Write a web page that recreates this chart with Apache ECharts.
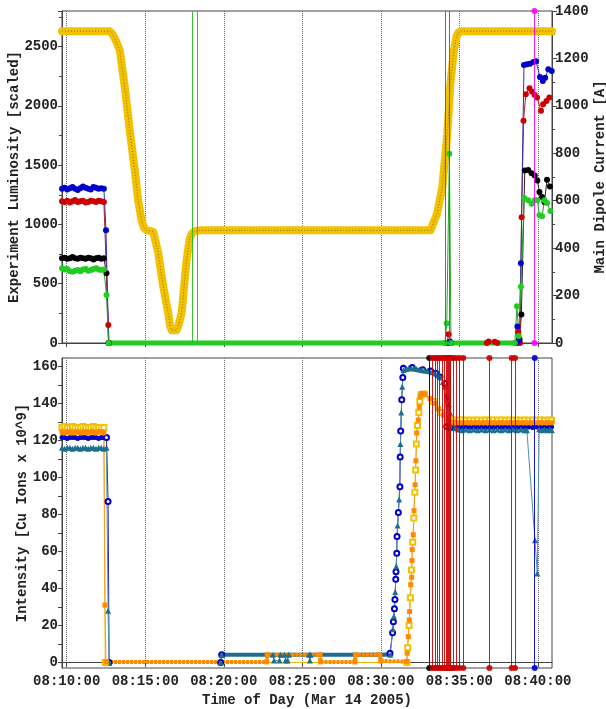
<!DOCTYPE html>
<html>
<head>
<meta charset="utf-8">
<script src="https://cdn.jsdelivr.net/npm/echarts@6/dist/echarts.min.js"></script>
<style>
  html, body { margin: 0; padding: 0; background: #fff; }
  #chart { width: 606px; height: 709px; }
</style>
</head>
<body>
<div id="chart"></div>
<script>
// time helpers (x values are seconds since midnight)
const toSec = s => { const p = s.split(':').map(Number); return p[0] * 3600 + p[1] * 60 + p[2]; };
const pad = n => String(n).padStart(2, '0');
const fmtTime = v => pad(Math.floor(v / 3600)) + ':' + pad(Math.floor(v % 3600 / 60)) + ':' + pad(Math.round(v % 60));

const xStart = '08:09:42', xEnd = '08:40:54';
const timeTicks = ['08:10:00', '08:15:00', '08:20:00', '08:25:00', '08:30:00', '08:35:00', '08:40:00'];
const intensityLabels = [0, 20, 40, 60, 80, 100, 120, 140, 160];
const intensityTicks = [0, 10, 20, 30, 40, 50, 60, 70, 80, 90, 100, 110, 120, 130, 140, 150, 160];

// ---- top panel: luminosity (left axis) + dipole current (right axis)
const headTimes = ['08:09:42', '08:09:52', '08:10:02', '08:10:12', '08:10:22', '08:10:32', '08:10:42', '08:10:52', '08:11:02',
  '08:11:12', '08:11:22', '08:11:32', '08:11:42', '08:11:52', '08:12:02', '08:12:12', '08:12:22'];

const blueLumiHead = [1300, 1310, 1295, 1305, 1315, 1300, 1290, 1305, 1320, 1310, 1300, 1295, 1315, 1310, 1300, 1305, 1300];
const redLumiHead = [1195, 1190, 1200, 1185, 1195, 1205, 1190, 1195, 1200, 1185, 1190, 1200, 1195, 1190, 1200, 1195, 1190];
const blackLumiHead = [715, 720, 710, 715, 725, 715, 710, 720, 715, 710, 720, 715, 705, 715, 720, 710, 715];
const greenLumiHead = [630, 620, 625, 605, 600, 610, 615, 605, 620, 625, 610, 615, 625, 630, 620, 615, 620];

const blueLumiRest = [['08:12:30', 950], ['08:12:40', 0], ['08:34:20', 0], ['08:34:24', 12], ['08:34:28', 0], ['08:38:36', 0],
  ['08:38:42', 140], ['08:38:48', 20], ['08:38:55', 673], ['08:39:07', 2344], ['08:39:18', 2350], ['08:39:30', 2355],
  ['08:39:43', 2369], ['08:39:53', 2377], ['08:40:08', 2243], ['08:40:19', 2210], ['08:40:28', 2238], ['08:40:40', 2308], ['08:40:53', 2294]];
const redLumiRest = [['08:12:39', 151], ['08:12:42', 0], ['08:34:12', 0], ['08:34:19', 73], ['08:34:26', 0], ['08:36:45', 0],
  ['08:36:52', 12], ['08:37:15', 10], ['08:37:25', 0], ['08:38:40', 0], ['08:38:45', 90], ['08:38:52', 0], ['08:38:58', 1060],
  ['08:39:05', 1874], ['08:39:14', 2098], ['08:39:28', 2148], ['08:39:38', 2120], ['08:39:48', 2092], ['08:39:57', 2070],
  ['08:40:12', 1958], ['08:40:20', 2014], ['08:40:33', 2042], ['08:40:44', 2070]];
const blackLumiRest = [['08:12:32', 589], ['08:12:40', 0], ['08:38:40', 0], ['08:38:50', 30], ['08:38:57', 240], ['08:39:10', 1454],
  ['08:39:23', 1460], ['08:39:36', 1432], ['08:39:48', 1412], ['08:39:58', 1371], ['08:40:06', 1273], ['08:40:16', 1231],
  ['08:40:25', 1189], ['08:40:35', 1376], ['08:40:46', 1320]];
const greenLumiRest = [['08:12:32', 404], ['08:12:40', 0], ['08:34:05', 0], ['08:34:12', 166], ['08:34:22', 1597], ['08:34:28', 0],
  ['08:38:32', 0], ['08:38:40', 310], ['08:38:47', 60], ['08:38:55', 475], ['08:39:08', 1222], ['08:39:23', 1203], ['08:39:36', 1175],
  ['08:39:48', 1203], ['08:39:58', 1203], ['08:40:06', 1077], ['08:40:16', 1068], ['08:40:25', 1203], ['08:40:35', 1180], ['08:40:48', 1113]];
const greenFloor = [['08:12:40', 0], ['08:38:32', 0]];

const dipoleCurrent = [['08:09:42', 1315], ['08:12:44', 1315], ['08:12:55', 1302], ['08:13:08', 1275], ['08:13:23', 1233],
  ['08:13:42', 1078], ['08:14:01', 896], ['08:14:20', 728], ['08:14:33', 602], ['08:14:46', 517], ['08:14:55', 487],
  ['08:15:05', 475], ['08:15:18', 473], ['08:15:31', 468], ['08:15:50', 378], ['08:16:09', 237], ['08:16:28', 125],
  ['08:16:35', 72], ['08:16:41', 54], ['08:17:00', 54], ['08:17:08', 78], ['08:17:19', 126], ['08:17:38', 350],
  ['08:17:50', 440], ['08:17:58', 462], ['08:18:10', 472], ['08:18:29', 475], ['08:33:10', 475], ['08:33:16', 480],
  ['08:33:35', 546], ['08:33:55', 658], ['08:34:14', 882], ['08:34:26', 1093], ['08:34:39', 1233], ['08:34:50', 1295],
  ['08:34:58', 1310], ['08:35:08', 1315], ['08:40:54', 1315]];

const topGreenEvents = ['08:17:59', '08:18:19'];
const topRedEvents = ['08:34:05', '08:34:22'];
const topMagentaEvents = ['08:39:47'];

// ---- bottom panel: intensity
const goldIntHead = [127, 127.5, 127, 127, 127.5, 127, 127, 127, 127.5, 127, 127, 127, 127.5, 127, 127, 127, 127];
const orangeIntHead = [124.5, 124, 124.5, 124.5, 124, 124.5, 124.5, 124, 124.5, 124.5, 124, 124.5, 124.5, 124, 124.5, 124.5, 124];
const blueIntHead = [121.5, 121.5, 121, 121.5, 121.5, 121.5, 121, 121.5, 121.5, 121.5, 121, 121.5, 121.5, 121.5, 121, 121.5, 121.5];
const tealIntHead = [116, 115.5, 116, 116, 115.5, 116, 116, 115.5, 116, 116, 115.5, 116, 116, 115.5, 116, 116, 115.5];

const goldIntRest = [['08:12:27', 0], ['08:31:40', 0], ['08:31:43', 8], ['08:31:48', 20], ['08:31:53', 35], ['08:31:57', 50],
  ['08:32:02', 65], ['08:32:06', 78], ['08:32:10', 92], ['08:32:13', 104], ['08:32:16', 118], ['08:32:20', 128], ['08:32:25', 135],
  ['08:32:29', 141], ['08:32:34', 144.5], ['08:32:45', 145], ['08:33:20', 141], ['08:33:50', 135], ['08:34:20', 131.5]];
const orangeIntRest = [['08:12:26', 31], ['08:12:30', 0.3], ['08:22:44', 0.3], ['08:22:46', 4.2], ['08:26:08', 4.2], ['08:26:10', 0.3],
  ['08:28:21', 0.3], ['08:28:23', 4.2], ['08:29:56', 4.2], ['08:30:00', 0.8], ['08:31:38', 0.5], ['08:31:41', 5], ['08:31:45', 14],
  ['08:31:49', 23], ['08:31:50', 27.5], ['08:31:54', 42], ['08:31:58', 46], ['08:31:59', 55], ['08:32:00', 61], ['08:32:04', 69],
  ['08:32:07', 82], ['08:32:11', 96], ['08:32:14', 109], ['08:32:17', 124], ['08:32:23', 131], ['08:32:27', 138], ['08:32:30', 143.5],
  ['08:32:36', 145.3], ['08:32:49', 145], ['08:33:08', 142.6], ['08:33:27', 140], ['08:33:40', 137], ['08:33:59', 133.6],
  ['08:34:12', 131], ['08:34:31', 130]];
const blueIntRest = [['08:12:32', 121.5], ['08:12:38', 87], ['08:12:42', 0], ['08:19:48', 0], ['08:19:52', 4.2], ['08:30:35', 5],
  ['08:30:45', 16], ['08:30:48', 22], ['08:30:52', 29], ['08:30:54', 34], ['08:30:57', 45], ['08:30:58', 49], ['08:31:01', 59],
  ['08:31:02', 68], ['08:31:07', 81], ['08:31:13', 95], ['08:31:14', 111], ['08:31:16', 125], ['08:31:20', 142], ['08:31:24', 154],
  ['08:31:26', 159], ['08:32:00', 159.3], ['08:32:40', 158.2], ['08:33:10', 157.5], ['08:33:30', 156.3], ['08:33:46', 154.3],
  ['08:34:05', 150.7], ['08:34:12', 127.5], ['08:34:25', 127]];
const tealIntRest = [['08:12:32', 116], ['08:12:38', 28], ['08:12:42', 0], ['08:19:48', 0], ['08:19:52', 4.2], ['08:23:08', 4.2],
  ['08:23:12', 1], ['08:23:33', 1], ['08:23:37', 4.2], ['08:23:52', 4.2], ['08:23:56', 1], ['08:24:04', 1], ['08:24:08', 4.2],
  ['08:25:26', 4.2], ['08:25:29', 1], ['08:25:32', 4.2], ['08:30:36', 4.2], ['08:30:46', 18], ['08:30:50', 25], ['08:30:55', 38],
  ['08:30:59', 52], ['08:31:04', 74], ['08:31:10', 88], ['08:31:15', 118], ['08:31:18', 135], ['08:31:22', 149], ['08:31:27', 158],
  ['08:31:37', 158.5], ['08:31:47', 159], ['08:31:57', 159], ['08:32:07', 158.8], ['08:32:17', 158.5], ['08:32:27', 158.3],
  ['08:32:37', 158], ['08:32:47', 157.8], ['08:32:57', 157.6], ['08:33:07', 157.3], ['08:33:17', 156.8], ['08:33:27', 156.2],
  ['08:33:37', 155.3], ['08:33:47', 154.2], ['08:33:57', 151.5], ['08:34:05', 149], ['08:34:12', 143.5], ['08:34:20', 139.5],
  ['08:34:28', 134], ['08:34:35', 129], ['08:34:42', 126.5], ['08:34:55', 125.8], ['08:35:10', 125.5], ['08:35:25', 125.8],
  ['08:35:40', 125.5], ['08:35:55', 125.8], ['08:36:10', 125.5], ['08:36:25', 125.8], ['08:36:40', 125.5], ['08:36:55', 125.8],
  ['08:37:10', 125.5], ['08:37:25', 125.8], ['08:37:40', 125.5], ['08:37:55', 125.8], ['08:38:10', 125.5], ['08:38:25', 125.8],
  ['08:38:40', 125.5], ['08:38:55', 125.8], ['08:39:10', 125.5], ['08:39:18', 125.5], ['08:39:49', 66], ['08:39:58', 48],
  ['08:40:05', 126], ['08:40:15', 125.5], ['08:40:25', 126], ['08:40:35', 125.5], ['08:40:45', 126], ['08:40:53', 125.5]];
const tealShelf = [['08:19:52', 4.2], ['08:30:36', 4.2]];

const tailTimes = ['08:34:40', '08:34:55', '08:35:10', '08:35:25', '08:35:40', '08:35:55', '08:36:10', '08:36:25', '08:36:40',
  '08:36:55', '08:37:10', '08:37:25', '08:37:40', '08:37:55', '08:38:10', '08:38:25', '08:38:40', '08:38:55', '08:39:10',
  '08:39:25', '08:39:40', '08:39:55', '08:40:10', '08:40:25', '08:40:40', '08:40:52'];
const goldTail = [131, 130.8, 131, 130.8, 131, 130.8, 131, 130.8, 131, 130.8, 131, 130.8, 131, 130.8, 131, 130.8, 131, 130.8,
  131, 130.8, 131, 130.8, 131, 130.8, 131, 130.8];
const orangeTail = [129.8, 129.5, 129.6, 129.5, 129.6, 129.5, 129.6, 129.5, 129.6, 129.5, 129.6, 129.5, 129.6, 129.5, 129.6,
  129.5, 129.6, 129.5, 129.6, 129.5, 129.6, 129.5, 129.6, 129.5, 129.6, 129.5];
const blueTail = [127, 127.2, 127, 127.2, 127, 127.2, 127, 127.2, 127, 127.2, 127, 127.2, 127, 127.2, 127, 127.2, 127, 127.2,
  127, 127.2, 127, 127.2, 127, 127.2, 127, 127.2];

const bottomBlackEvents = ['08:33:05'];
const bottomRedEvents = ['08:33:18', '08:33:27', '08:33:36', '08:33:44', '08:33:53', '08:34:02', '08:34:09', '08:34:13',
  '08:34:17', '08:34:21', '08:34:25', '08:34:27', '08:34:37', '08:34:47', '08:35:00', '08:35:15', '08:36:55', '08:38:20', '08:38:33'];
const bottomBlueEvents = ['08:39:48'];

// ---- build
const zipT = (times, vals) => times.map((t, i) => [toSec(t), vals[i]]);
const pairs = arr => arr.map(([t, v]) => [toSec(t), v]);
// plateau samples of the blue intensity are drawn as filled dots, the ramp as open circles
const filled = pts => pts.map(p => ({ value: p, symbol: 'circle' }));

const FONT = { fontFamily: '"Liberation Mono", "DejaVu Sans Mono", monospace', fontSize: 14, fontWeight: 'bold', color: '#222' };
const AXIS_COLOR = '#444';
const plain = v => String(v);

function dataSeries(data, opts) {
  return Object.assign({
    type: 'line', data: data, clip: false, silent: true, animation: false,
    showSymbol: true, symbol: 'circle', symbolSize: 6
  }, opts);
}

function eventLines(times, color, xi, yi, dots) {
  return {
    type: 'line', xAxisIndex: xi, yAxisIndex: yi, data: [], silent: true, animation: false,
    markLine: {
      silent: true, animation: false,
      symbol: dots ? ['circle', 'circle'] : ['none', 'none'], symbolSize: 6,
      label: { show: false },
      itemStyle: { color: color },
      lineStyle: { color: color, width: 1, type: 'solid', opacity: 0.9 },
      emphasis: { disabled: true },
      data: times.map(t => ({ xAxis: toSec(t) }))
    }
  };
}

const xCommon = {
  type: 'value', min: toSec(xStart), max: toSec(xEnd), nameMoveOverlap: false,
  axisLine: { show: true, lineStyle: { color: AXIS_COLOR } },
  axisTick: { show: true, customValues: timeTicks.map(toSec), length: 4, lineStyle: { color: AXIS_COLOR } },
  splitLine: { show: true, lineStyle: { type: 'dotted', color: '#666', width: 1 } }
};

const gridCommon = { show: true, borderColor: AXIS_COLOR, borderWidth: 1, backgroundColor: 'transparent', containLabel: false, outerBoundsMode: 'none' };

const option = {
  animation: false,
  backgroundColor: '#ffffff',
  grid: [
    Object.assign({ left: 62, top: 11, width: 490, height: 332 }, gridCommon),
    Object.assign({ left: 62, top: 358, width: 490, height: 310 }, gridCommon)
  ],
  xAxis: [
    Object.assign({ gridIndex: 0, axisLabel: { show: false } }, xCommon),
    Object.assign({
      gridIndex: 1,
      axisLabel: Object.assign({ customValues: timeTicks.map(toSec), formatter: fmtTime, margin: 6 }, FONT),
      name: 'Time of Day (Mar 14 2005)', nameLocation: 'middle', nameGap: 25, nameTextStyle: FONT
    }, xCommon)
  ],
  yAxis: [
    {
      gridIndex: 0, type: 'value', position: 'left', min: 0, max: 2800, interval: 500,
      name: 'Experiment Luminosity [scaled]', nameLocation: 'middle', nameGap: 41, nameMoveOverlap: false, nameTextStyle: FONT,
      axisLine: { show: true, lineStyle: { color: AXIS_COLOR } },
      axisTick: { show: true, length: 4, lineStyle: { color: AXIS_COLOR } },
      minorTick: { show: true, splitNumber: 2, length: 3, lineStyle: { color: AXIS_COLOR } },
      axisLabel: Object.assign({ showMaxLabel: false, margin: 4, formatter: plain }, FONT),
      splitLine: { show: false }
    },
    {
      gridIndex: 0, type: 'value', position: 'right', min: 0, max: 1400, interval: 200,
      name: 'Main Dipole Current [A]', nameLocation: 'middle', nameGap: 41, nameRotate: 90, nameMoveOverlap: false, nameTextStyle: FONT,
      axisLine: { show: true, lineStyle: { color: AXIS_COLOR } },
      axisTick: { show: true, length: 5, lineStyle: { color: AXIS_COLOR } },
      minorTick: { show: true, splitNumber: 2, length: 3, lineStyle: { color: AXIS_COLOR } },
      axisLabel: Object.assign({ margin: 3, formatter: plain }, FONT),
      splitLine: { show: false }
    },
    {
      gridIndex: 1, type: 'value', position: 'left', min: -3, max: 164.5,
      name: 'Intensity [Cu Ions x 10^9]', nameLocation: 'middle', nameGap: 33, nameMoveOverlap: false, nameTextStyle: FONT,
      axisLine: { show: true, lineStyle: { color: AXIS_COLOR } },
      axisTick: { show: true, customValues: intensityTicks, length: 4, lineStyle: { color: AXIS_COLOR } },
      axisLabel: Object.assign({ customValues: intensityLabels, margin: 4, formatter: plain }, FONT),
      splitLine: { show: false }
    }
  ],
  series: [
    // top panel
    dataSeries(pairs(dipoleCurrent), { xAxisIndex: 0, yAxisIndex: 1, showSymbol: false, symbol: 'none',
      lineStyle: { color: '#f2c100', width: 8, cap: 'round', join: 'round' } }),
    dataSeries(pairs(dipoleCurrent), { xAxisIndex: 0, yAxisIndex: 1, showSymbol: false, symbol: 'none',
      lineStyle: { color: '#6e5a2e', width: 1, type: [1, 2], opacity: 0.8 } }),
    dataSeries(zipT(headTimes, blackLumiHead).concat(pairs(blackLumiRest)), { xAxisIndex: 0, yAxisIndex: 0,
      itemStyle: { color: '#000' }, lineStyle: { color: '#222', width: 1 } }),
    dataSeries(zipT(headTimes, redLumiHead).concat(pairs(redLumiRest)), { xAxisIndex: 0, yAxisIndex: 0,
      itemStyle: { color: '#cc0000' }, lineStyle: { color: '#b02020', width: 1 } }),
    dataSeries(zipT(headTimes, blueLumiHead).concat(pairs(blueLumiRest)), { xAxisIndex: 0, yAxisIndex: 0,
      itemStyle: { color: '#0000cc' }, lineStyle: { color: '#3030b0', width: 1 } }),
    dataSeries(zipT(headTimes, greenLumiHead).concat(pairs(greenLumiRest)), { xAxisIndex: 0, yAxisIndex: 0,
      itemStyle: { color: '#22cc22' }, lineStyle: { color: '#22aa22', width: 1 } }),
    dataSeries(pairs(greenFloor), { xAxisIndex: 0, yAxisIndex: 0, showSymbol: false, symbol: 'none',
      lineStyle: { color: '#22cc22', width: 5 } }),
    eventLines(topGreenEvents, '#22bb22', 0, 0, false),
    eventLines(topRedEvents, '#b83a2a', 0, 0, false),
    eventLines(topMagentaEvents, '#ff00ff', 0, 0, true),

    // bottom panel
    dataSeries(filled(zipT(headTimes, blueIntHead)).concat(pairs(blueIntRest), filled(zipT(tailTimes, blueTail))), { xAxisIndex: 1, yAxisIndex: 2,
      symbol: 'emptyCircle', symbolSize: 5, itemStyle: { color: '#0000c8', borderWidth: 1.5 }, lineStyle: { color: '#2020b0', width: 1 } }),
    dataSeries(zipT(headTimes, tealIntHead).concat(pairs(tealIntRest)), { xAxisIndex: 1, yAxisIndex: 2,
      symbol: 'triangle', symbolSize: 6, itemStyle: { color: '#1d6f8e' }, lineStyle: { color: '#4a90b4', width: 1 } }),
    dataSeries(pairs(tealShelf), { xAxisIndex: 1, yAxisIndex: 2, showSymbol: false, symbol: 'none',
      lineStyle: { color: '#1d6f8e', width: 4 } }),
    dataSeries(zipT(headTimes, goldIntHead).concat(pairs(goldIntRest), zipT(tailTimes, goldTail)), { xAxisIndex: 1, yAxisIndex: 2,
      symbol: 'emptyRect', symbolSize: 5, itemStyle: { color: '#f2c100', borderWidth: 1.5 }, lineStyle: { color: '#f2c100', width: 1 } }),
    dataSeries(zipT(headTimes, orangeIntHead).concat(pairs(orangeIntRest), zipT(tailTimes, orangeTail)), { xAxisIndex: 1, yAxisIndex: 2,
      symbol: 'rect', symbolSize: 5, itemStyle: { color: '#ff8a00' }, lineStyle: { color: '#ff9a20', width: 1 } }),
    dataSeries(pairs(orangeIntRest.slice(1, 11)), { xAxisIndex: 1, yAxisIndex: 2, showSymbol: false, symbol: 'none',
      lineStyle: { color: '#ff8a00', width: 4, type: [3, 1] } }),
    eventLines(bottomBlackEvents, '#000000', 1, 2, true),
    eventLines(bottomRedEvents, '#cc0000', 1, 2, true),
    eventLines(bottomBlueEvents, '#0000cc', 1, 2, true)
  ]
};

const chart = echarts.init(document.getElementById('chart'), null, { renderer: 'canvas' });
chart.setOption(option);
</script>
</body>
</html>
